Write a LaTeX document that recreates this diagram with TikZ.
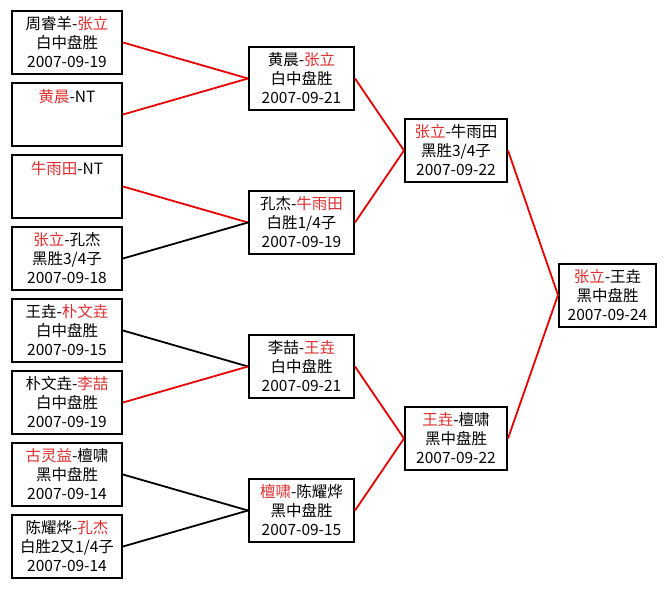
\documentclass[tikz,border=0pt]{standalone}
\usepackage{fontspec}
\setmainfont{Noto Sans CJK SC}

\begin{document}
\begin{tikzpicture}[x=1pt, y=-1pt,
  partita/.style={draw=black, line width=2pt, inner sep=0pt, align=center,
    minimum height=63pt, font=\fontsize{15.5}{19}\selectfont},
  linVinc/.style={draw=colLinea, line width=1.8pt},
  linPers/.style={draw=black, line width=1.8pt}]

% Colori
\definecolor{colVinc}{RGB}{222,48,48}
\definecolor{colLinea}{RGB}{232,0,0}

% Nome del vincitore in rosso
\def\vinc#1{\textcolor{colVinc}{#1}}

% Margini
\useasboundingbox[fill=white] (0,0) rectangle (667,589);

% Primo turno
\node[partita, minimum width=110pt] (p1) at (67,42.5) {周睿羊-\vinc{张立}\\白中盘胜\\2007-09-19};
\node[partita, minimum width=110pt] (p2) at (67,114.5) {\vinc{黄晨}-NT\\~\\~};
\node[partita, minimum width=110pt] (p3) at (67,186.5) {\vinc{牛雨田}-NT\\~\\~};
\node[partita, minimum width=110pt] (p4) at (67,258.5) {\vinc{张立}-孔杰\\黑胜3/4子\\2007-09-18};
\node[partita, minimum width=110pt] (p5) at (67,330.5) {王垚-\vinc{朴文垚}\\白中盘胜\\2007-09-15};
\node[partita, minimum width=110pt] (p6) at (67,402.5) {朴文垚-\vinc{李喆}\\白中盘胜\\2007-09-19};
\node[partita, minimum width=110pt] (p7) at (67,474.5) {\vinc{古灵益}-檀啸\\黑中盘胜\\2007-09-14};
\node[partita, minimum width=110pt] (p8) at (67,546.5) {陈耀烨-\vinc{孔杰}\\白胜2又1/4子\\2007-09-14};

% Secondo turno
\node[partita, minimum width=105pt] (q1) at (301.5,78.5) {黄晨-\vinc{张立}\\白中盘胜\\2007-09-21};
\node[partita, minimum width=105pt] (q2) at (301.5,222.5) {孔杰-\vinc{牛雨田}\\白胜1/4子\\2007-09-19};
\node[partita, minimum width=105pt] (q3) at (301.5,366.5) {李喆-\vinc{王垚}\\白中盘胜\\2007-09-21};
\node[partita, minimum width=105pt] (q4) at (301.5,510.5) {\vinc{檀啸}-陈耀烨\\黑中盘胜\\2007-09-15};

% Semifinali
\node[partita, minimum width=102pt] (s1) at (456,150.5) {\vinc{张立}-牛雨田\\黑胜3/4子\\2007-09-22};
\node[partita, minimum width=102pt] (s2) at (456,438.5) {\vinc{王垚}-檀啸\\黑中盘胜\\2007-09-22};

% Finale
\node[partita, minimum width=97pt] (fin) at (607.5,295) {\vinc{张立}-王垚\\黑中盘胜\\2007-09-24};

% Collegamenti
\draw[linVinc] (p1.east) -- (q1.west);
\draw[linVinc] (p2.east) -- (q1.west);
\draw[linVinc] (p3.east) -- (q2.west);
\draw[linPers] (p4.east) -- (q2.west);
\draw[linPers] (p5.east) -- (q3.west);
\draw[linVinc] (p6.east) -- (q3.west);
\draw[linPers] (p7.east) -- (q4.west);
\draw[linPers] (p8.east) -- (q4.west);

\draw[linVinc] (q1.east) -- (s1.west);
\draw[linVinc] (q2.east) -- (s1.west);
\draw[linVinc] (q3.east) -- (s2.west);
\draw[linVinc] (q4.east) -- (s2.west);

\draw[linVinc] (s1.east) -- (fin.west);
\draw[linVinc] (s2.east) -- (fin.west);

\end{tikzpicture}
\end{document}
